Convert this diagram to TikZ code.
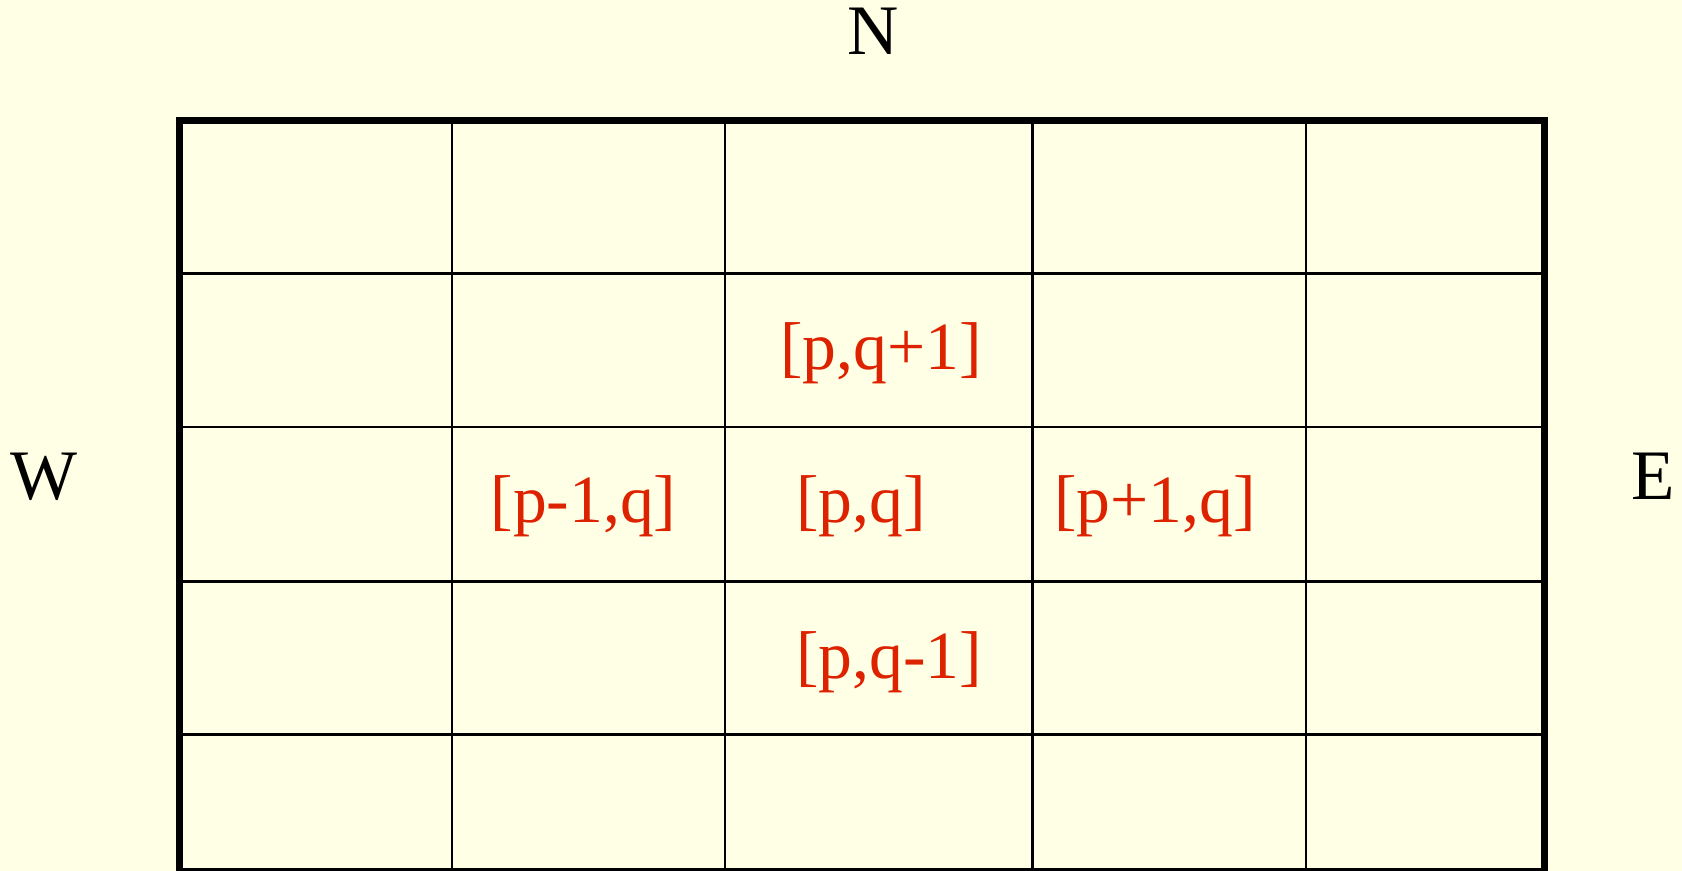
\documentclass[tikz,border=0pt]{standalone}
\usepackage{fontspec}
\setmainfont{Liberation Serif}
\definecolor{paper}{RGB}{255,255,230}
\definecolor{cellred}{RGB}{221,34,0}

\begin{document}
\begin{tikzpicture}[x=0.5pt,y=-0.5pt,
  gridline/.style={black,line width=1.3pt},
  frameline/.style={black,line width=3.5pt},
  compass/.style={font=\fontsize{35.5}{42}\selectfont,text=black,anchor=base,inner sep=0pt},
  cell/.style={font=\fontsize{33.8}{40}\selectfont,text=cellred,anchor=base,inner sep=0pt}]
\fill[paper] (0,0) rectangle (1682,871);
\useasboundingbox (0,0) rectangle (1682,871);
% grid
\foreach \x in {452,725,1032.5,1306}
  \draw[gridline] (\x,120.5) -- (\x,871.5);
\foreach \y in {273.5,427,581.5,734.5}
  \draw[gridline] (179.5,\y) -- (1544.5,\y);
\draw[frameline] (179.5,120.5) rectangle (1544.5,871.5);

% compass points
\node[compass] (north) at (873,55) {N};
\node[compass] (west) at (44.5,500) {W};
\node[compass] (east) at (1653,500) {E};

% neighbours
\node[cell] (pqplus) at (881,370) {[p,q+1]};
\node[cell] (pminusq) at (583.5,523) {[p-1,q]};
\node[cell] (pq) at (861,523) {[p,q]};
\node[cell] (pplusq) at (1155,523) {[p+1,q]};
\node[cell] (pqminus) at (889,678) {[p,q-1]};

\end{tikzpicture}
\end{document}
